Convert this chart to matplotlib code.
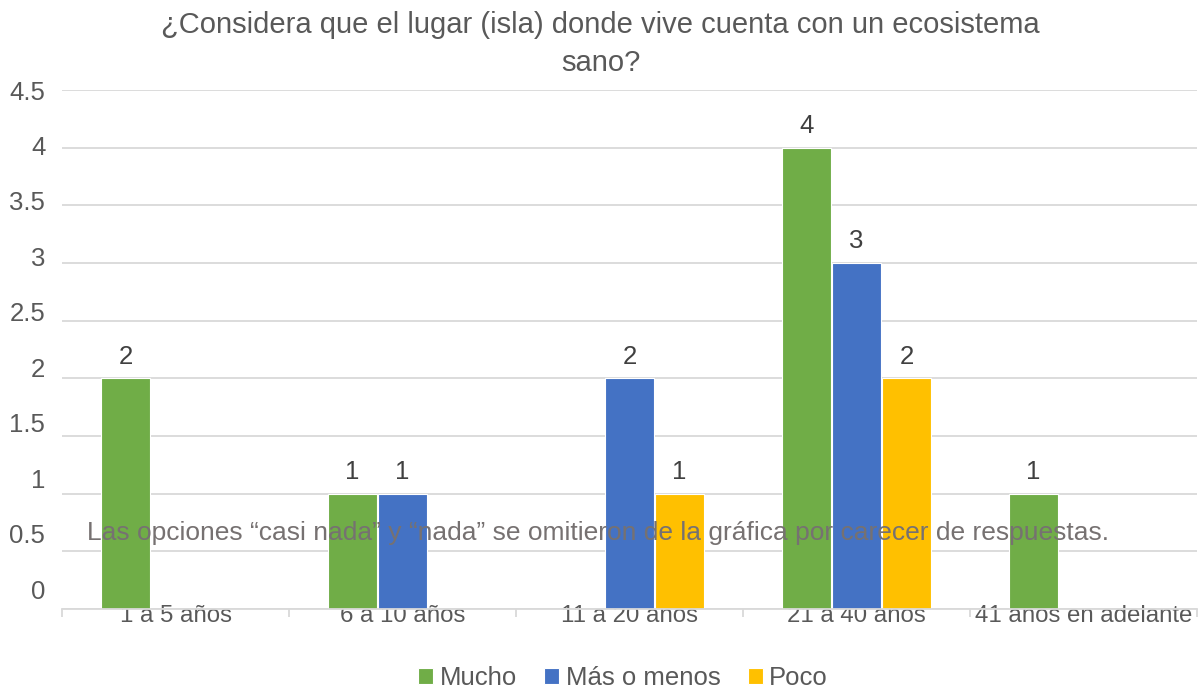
import matplotlib
matplotlib.use("Agg")
import matplotlib.pyplot as plt
import numpy as np

plt.rcParams['font.family'] = ['Liberation Sans', 'DejaVu Sans']

categories = ["1 a 5 años", "6 a 10 años", "11 a 20 años", "21 a 40 años", "41 años en adelante"]
series_names = ["Mucho", "Más o menos", "Poco"]
mucho = [2, 1, 0, 4, 1]
mas_o_menos = [0, 1, 2, 3, 0]
poco = [0, 0, 1, 2, 0]
yticks = [0, 0.5, 1, 1.5, 2, 2.5, 3, 3.5, 4, 4.5]
ytick_labels = ["0", "0.5", "1", "1.5", "2", "2.5", "3", "3.5", "4", "4.5"]
title = "¿Considera que el lugar (isla) donde vive cuenta con un ecosistema\nsano?"
note = "Las opciones “casi nada” y “nada” se omitieron de la gráfica por carecer de respuestas."

colors = ["#70AD47", "#4472C4", "#FFC000"]
text_gray = "#595959"
grid_gray = "#D9D9D9"

W, H = 1201, 691
fig = plt.figure(figsize=(W / 100, H / 100), dpi=100)
left, right, top, bottom = 62, 1197, 90, 609
ax = fig.add_axes([left / W, 1 - bottom / H, (right - left) / W, (bottom - top) / H])

x = np.arange(len(categories))
offsets = [-0.22, 0.0, 0.22]
width = 0.212
for vals, name, off, c in zip([mucho, mas_o_menos, poco], series_names, offsets, colors):
    v = np.array(vals, dtype=float)
    bars = ax.bar(x + off, v, width=width, color=c, edgecolor="white", linewidth=0.8,
                  label=name, zorder=2)
    for b, val in zip(bars, v):
        if val > 0:
            ax.annotate(f"{int(val)}", (b.get_x() + b.get_width() / 2, val),
                        xytext=(0, 7), textcoords="offset points", ha="center", va="bottom",
                        fontsize=18.5, color="#404040")

ax.set_xlim(-0.5, len(categories) - 0.5)
ax.set_ylim(0, 4.5)
ax.set_yticks(yticks)
ax.yaxis.grid(True, color=grid_gray, linewidth=1.3, zorder=0)
ax.set_axisbelow(True)
ax.tick_params(axis="y", length=0, labelleft=False)
for s in ["top", "right", "left"]:
    ax.spines[s].set_visible(False)
ax.spines["bottom"].set_color(grid_gray)
ax.spines["bottom"].set_linewidth(1.3)

# y tick labels (rendered on a twin scale as in the reference)
ax2 = ax.twinx()
ax2.yaxis.tick_left()
ax2.set_ylim(-0.18, 4.5)
ax2.set_yticks(yticks)
ax2.set_yticklabels(ytick_labels, fontsize=18.5, color=text_gray)
ax2.tick_params(axis="y", length=0, pad=12)
for s in ax2.spines.values():
    s.set_visible(False)

ax.set_xticks(x)
ax.set_xticklabels(categories, fontsize=17.3, color=text_gray)
ax.tick_params(axis="x", which="major", length=0, pad=-3)
ax.set_xticks(np.arange(-0.5, len(categories)), minor=True)
ax.tick_params(axis="x", which="minor", length=6, color=grid_gray, width=1.3)

fig.text(0.5, 1 - 44 / H, title, ha="center", va="center", fontsize=21, color=text_gray,
         linespacing=1.42)

fig.text(598 / W, 1 - 533 / H, note, ha="center", va="center", fontsize=19, color="#767171",
         zorder=10)

handles, labels = ax.get_legend_handles_labels()
leg = fig.legend(handles, labels, loc="center", bbox_to_anchor=(623 / W, 1 - 678 / H), ncol=3,
                 frameon=False, fontsize=18.5, handlelength=0.6, handleheight=0.6,
                 handletextpad=0.25, columnspacing=1.05)
for t in leg.get_texts():
    t.set_color(text_gray)

fig.savefig("out.png", dpi=100)
